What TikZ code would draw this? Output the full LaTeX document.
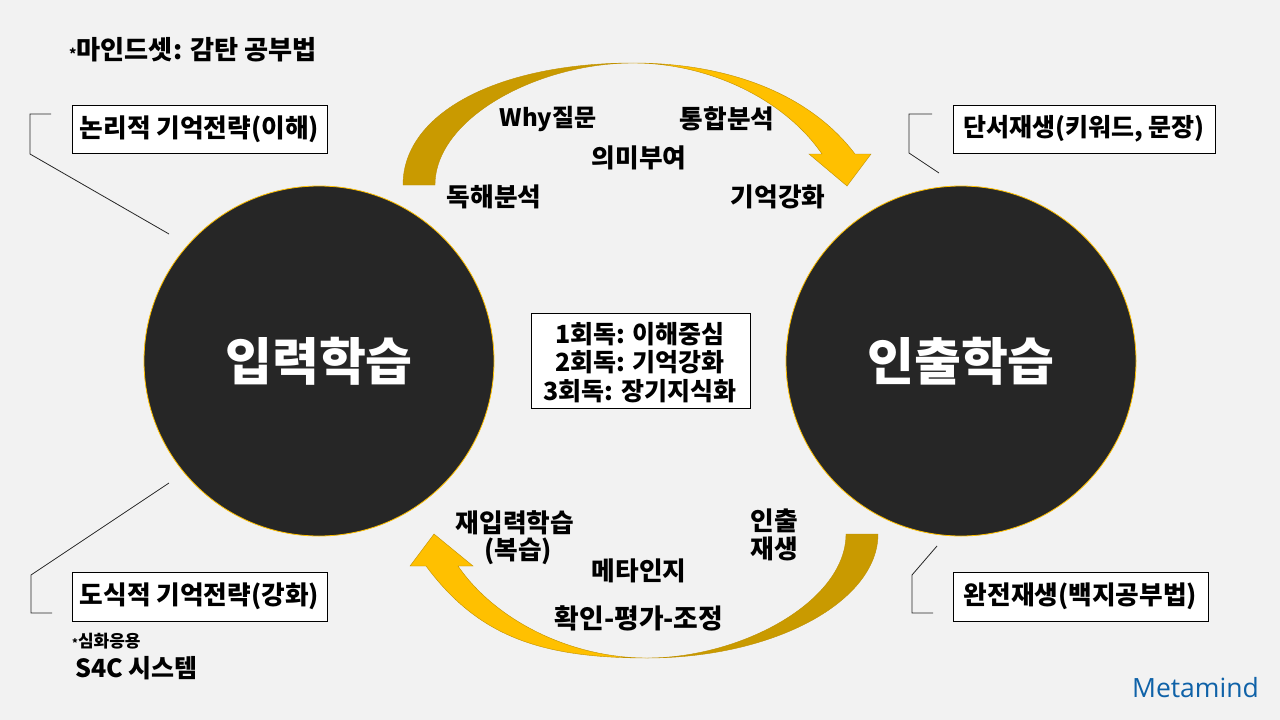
\documentclass[tikz,border=0pt]{standalone}
\usepackage{fontspec}
\setmainfont{Noto Sans CJK KR}
\newfontfamily\latinfont{Open Sans}
\newcommand{\fsz}[1]{\fontsize{#1}{#1}\selectfont\bfseries}
\definecolor{bgc}{HTML}{F2F2F2}
\definecolor{disc}{HTML}{262626}
\definecolor{golda}{HTML}{FFC000}
\definecolor{goldb}{HTML}{C99A00}
\definecolor{goldline}{HTML}{BF9000}
\definecolor{brand}{HTML}{0F62A8}
\definecolor{leader}{HTML}{262626}
\tikzset{
  x=1pt,y=-1pt,
  discnode/.style={circle,draw=golda,line width=0.8pt,fill=disc,text=white,minimum size=350pt,inner sep=0pt,font=\fsz{51}},
  boxnode/.style={draw=black,line width=1pt,fill=white,inner sep=0pt,font=\fsz{25.7}},
  lab/.style={inner sep=0pt,font=\fsz{25.7},text=black},
  leaderline/.style={draw=leader,line width=0.8pt},
}
\begin{document}
\begin{tikzpicture}
\useasboundingbox (0,0) rectangle (1280,720);
\fill[bgc] (0,0) rectangle (1280,720);
% circles
\node[discnode] (input) at (319,361) {입력학습};
\node[discnode] (output) at (961,361) {인출학습};
% top arrow
\fill[goldb,draw=goldline,line width=0.4pt] (403,185) .. controls (403,112) and (500,63) .. (633,63)
  .. controls (538,63) and (435,118) .. (435,185) -- cycle;
\fill[golda,draw=goldline,line width=0.4pt] (633,63) .. controls (725,63) and (808,92) .. (855,154)
  -- (871,154) -- (847,186) -- (809,154) -- (822,154) .. controls (785,100) and (710,63) .. (633,63) -- cycle;
% bottom arrow
\fill[goldb,draw=goldline,line width=0.4pt] (878,534) .. controls (878,601) and (775,658) .. (647,658)
  .. controls (742,658) and (846,601) .. (846,534) -- cycle;
\fill[golda,draw=goldline,line width=0.4pt] (647,658) .. controls (540,658) and (478,636) .. (426,566)
  -- (410,566) -- (434,534) -- (473,566) -- (458,566) .. controls (495,620) and (570,658) .. (647,658) -- cycle;
% boxes
\node[boxnode,minimum width=255pt,minimum height=48pt] (logic) at (199.5,129) {논리적 기억전략(이해)};
\node[boxnode,minimum width=255pt,minimum height=49pt] (diagram) at (199.5,596.5) {도식적 기억전략(강화)};
\node[boxnode,minimum width=262pt,minimum height=48pt,font=\fsz{25}] (recall) at (1084,129) {단서재생(키워드, 문장)};
\node[boxnode,minimum width=255pt,minimum height=49pt] (full) at (1080.5,596.5) {완전재생(백지공부법)};
\node[draw=black,line width=1pt,fill=white,minimum width=219pt,minimum height=95pt,inner sep=0pt] (centerbox) at (640.5,360.5) {};
\node[lab,font=\fsz{25}] (c1) at (640,334) {1회독: 이해중심};
\node[lab,font=\fsz{25}] (c2) at (640,362) {2회독: 기억강화};
\node[lab,font=\fsz{25}] (c3) at (640,391) {3회독: 장기지식화};
% leaders
\coordinate (lta) at (51,114); \coordinate (ltb) at (30,114); \coordinate (ltc) at (30,154); \coordinate (ltd) at (169,234);
\coordinate (lba) at (169,483); \coordinate (lbb) at (31,575); \coordinate (lbc) at (31,613); \coordinate (lbd) at (52,613);
\coordinate (rta) at (932,114); \coordinate (rtb) at (909,114); \coordinate (rtc) at (909,153); \coordinate (rtd) at (939,173);
\coordinate (rba) at (937,546); \coordinate (rbb) at (912,575); \coordinate (rbc) at (912,613); \coordinate (rbd) at (933,613);
\draw[leaderline] (lta) -- (ltb) -- (ltc) -- (ltd);
\draw[leaderline] (lba) -- (lbb) -- (lbc) -- (lbd);
\draw[leaderline] (rta) -- (rtb) -- (rtc) -- (rtd);
\draw[leaderline] (rba) -- (rbb) -- (rbc) -- (rbd);
% labels
\node[lab,anchor=west,font=\fsz{26.2}] (title) at (69,50) {{\fsz{14}*}마인드셋: 감탄 공부법};
\node[lab,font=\fsz{24}] (why) at (548,119) {Why질문};
\node[lab] (tonghap) at (727,119) {통합분석};
\node[lab] (uimi) at (639,158) {의미부여};
\node[lab] (dokhae) at (494,197) {독해분석};
\node[lab] (gieok) at (778,197) {기억강화};
\node[lab] (rein) at (515,523) {재입력학습};
\node[lab] (bok) at (518,551) {(복습)};
\node[lab] (inchul) at (774,521) {인출};
\node[lab] (jae) at (774,549) {재생};
\node[lab] (meta) at (639,571) {메타인지};
\node[lab,font=\fsz{26.8}] (check) at (639,618) {확인-평가-조정};
\node[lab,anchor=west,font=\fsz{17}] (deep) at (72,641) {{\fsz{11}*}심화응용};
\node[lab,anchor=west,font=\fsz{25}] (s4c) at (75,668) {S4C 시스템};
\node[inner sep=0pt,anchor=east,text=brand,font=\fontsize{26.5}{26.5}\selectfont\latinfont] (brandname) at (1259,688) {Metamind};
\end{tikzpicture}
\end{document}
